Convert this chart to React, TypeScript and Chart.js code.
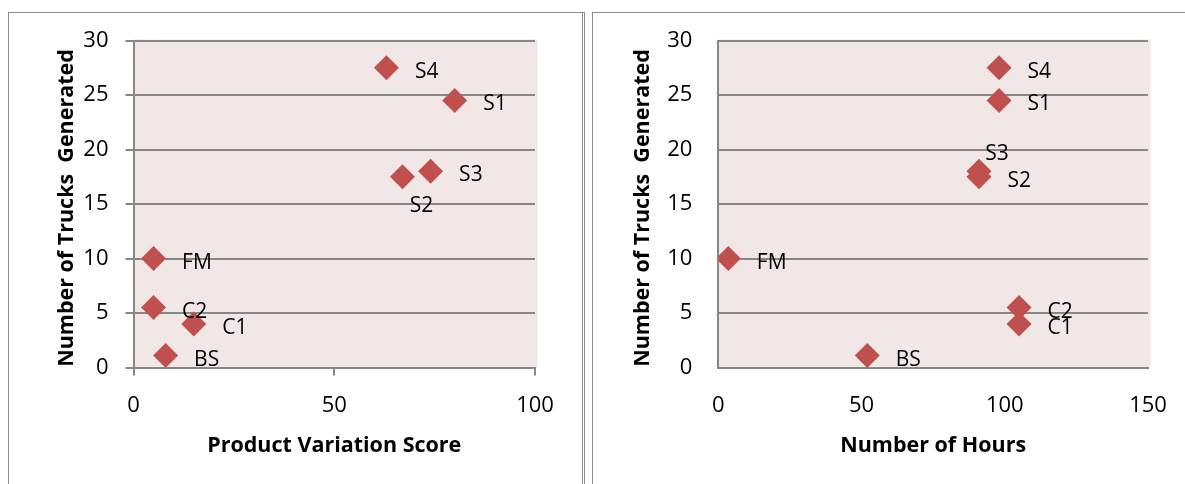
import React, { useEffect, useRef } from 'react';
import { Chart, registerables } from 'chart.js';

Chart.register(...registerables);

// Site data: trucks generated per site, with its product-variation score and hours
const siteNames = ['S1', 'S2', 'S3', 'S4', 'FM', 'C1', 'C2', 'BS'];
const trucksGenerated = [24.5, 17.5, 18, 27.5, 10, 4, 5.5, 1.1];
const variationScores = [80, 67, 74, 63, 5, 15, 5, 8];
const hoursWorked = [98, 91, 91, 98, 3.5, 105, 105, 52];

// Where each site's label sits relative to its marker
const variationLabelSides = ['right', 'below', 'right', 'right', 'right', 'right', 'right', 'right'];
const hoursLabelSides = ['right', 'right', 'above', 'right', 'right', 'right', 'right', 'right'];

// Axis ranges and tick steps
const yAxisMax = 30;
const yAxisStep = 5;
const variationAxisMax = 100;
const hoursAxisMax = 150;
const xAxisStep = 50;

const FONT = '"Open Sans", "Noto Sans", sans-serif';
const GRID = '#878787';
const MARKER = '#C0504D';
const PLOT_FILL = '#F2E7E7';

const CANVAS_H = 471;

type PanelSpec = {
  left: number;
  width: number;
  xValues: number[];
  xMax: number;
  sides: string[];
  xTitle: string;
  yTitleBaseline: number;
  tickMarks: boolean;
  yAxisWidth: number;
  rightPad: number;
};

const plotBackground = {
  id: 'plotBackground',
  beforeDraw(chart: any) {
    const { ctx, chartArea } = chart;
    ctx.save();
    ctx.fillStyle = PLOT_FILL;
    ctx.fillRect(chartArea.left, chartArea.top - 1, chartArea.width + 2.5, chartArea.height + 1);
    ctx.restore();
  },
};

const siteLabels = {
  id: 'siteLabels',
  afterDatasetsDraw(chart: any, _args: any, opts: any) {
    const { ctx } = chart;
    const meta = chart.getDatasetMeta(0);
    ctx.save();
    ctx.fillStyle = '#000';
    ctx.font = `21px ${FONT}`;
    ctx.textBaseline = 'alphabetic';
    meta.data.forEach((pt: any, i: number) => {
      const side = opts.sides[i];
      const name = siteNames[i];
      if (side === 'below') {
        ctx.textAlign = 'center';
        ctx.fillText(name, pt.x + 19, pt.y + 35.5);
      } else if (side === 'above') {
        ctx.textAlign = 'center';
        ctx.fillText(name, pt.x + 18, pt.y - 11);
      } else {
        ctx.textAlign = 'left';
        ctx.fillText(name, pt.x + 28.5, pt.y + 10);
      }
    });
    ctx.restore();
  },
};

const axisTitles = {
  id: 'axisTitles',
  afterDraw(chart: any, _args: any, opts: any) {
    const { ctx, chartArea } = chart;
    ctx.save();
    ctx.fillStyle = '#000';
    ctx.font = `bold 21.5px ${FONT}`;
    ctx.textAlign = 'center';
    ctx.textBaseline = 'alphabetic';
    ctx.fillText(opts.xTitle, (chartArea.left + chartArea.right) / 2, 438.7);
    ctx.translate(opts.yTitleBaseline, 195);
    ctx.rotate(-Math.PI / 2);
    ctx.fillText(opts.yTitle, 0, 0);
    ctx.restore();
  },
};

function ScatterPanel({ spec }: { spec: PanelSpec }) {
  const ref = useRef<HTMLCanvasElement>(null);

  useEffect(() => {
    const tickFont = { family: FONT, size: 22 };
    const chart = new Chart(ref.current as HTMLCanvasElement, {
      type: 'scatter',
      data: {
        datasets: [
          {
            data: spec.xValues.map((x, i) => ({ x, y: trucksGenerated[i] })),
            pointStyle: 'rectRot',
            pointRadius: 12.5,
            pointHoverRadius: 12.5,
            pointBackgroundColor: MARKER,
            pointBorderColor: MARKER,
            pointBorderWidth: 0,
          },
        ],
      },
      options: {
        animation: false,
        responsive: false,
        events: [],
        layout: { autoPadding: false, padding: { left: 0, right: spec.rightPad, top: 27.5, bottom: 0 } },
        plugins: {
          legend: { display: false },
          tooltip: { enabled: false },
          siteLabels: { sides: spec.sides },
          axisTitles: {
            xTitle: spec.xTitle,
            yTitle: 'Number of Trucks  Generated',
            yTitleBaseline: spec.yTitleBaseline,
          },
        } as any,
        scales: {
          x: {
            type: 'linear',
            min: 0,
            max: spec.xMax,
            ticks: {
              stepSize: xAxisStep,
              color: '#000',
              font: tickFont,
              padding: spec.tickMarks ? 17 : 25,
            },
            grid: {
              drawOnChartArea: false,
              drawTicks: spec.tickMarks,
              tickLength: 8,
              color: GRID,
              lineWidth: 2,
            },
            border: { display: true, color: GRID, width: 2 },
            afterFit: (s: any) => {
              s.height = 116.5;
              s.paddingLeft = 0;
              s.paddingRight = 0;
            },
          },
          y: {
            type: 'linear',
            min: 0,
            max: yAxisMax,
            ticks: {
              stepSize: yAxisStep,
              color: '#000',
              font: tickFont,
              padding: spec.tickMarks ? 17 : 26,
            },
            grid: {
              color: GRID,
              lineWidth: 2,
              drawTicks: spec.tickMarks,
              tickLength: 8,
            },
            border: { display: true, color: GRID, width: 2 },
            afterFit: (s: any) => {
              s.width = spec.yAxisWidth;
              s.paddingTop = 0;
              s.paddingBottom = 0;
            },
          },
        },
      },
      plugins: [plotBackground, siteLabels, axisTitles],
    } as any);
    return () => chart.destroy();
  }, [spec]);

  return (
    <canvas
      ref={ref}
      width={spec.width}
      height={CANVAS_H}
      style={{ position: 'absolute', left: spec.left, top: 13, width: spec.width, height: CANVAS_H }}
    />
  );
}

const variationPanel: PanelSpec = {
  left: 9,
  width: 572,
  xValues: variationScores,
  xMax: variationAxisMax,
  sides: variationLabelSides,
  xTitle: 'Product Variation Score',
  yTitleBaseline: 64,
  tickMarks: true,
  yAxisWidth: 124.5,
  rightPad: 46,
};

const hoursPanel: PanelSpec = {
  left: 594,
  width: 591,
  xValues: hoursWorked,
  xMax: hoursAxisMax,
  sides: hoursLabelSides,
  xTitle: 'Number of Hours',
  yTitleBaseline: 55,
  tickMarks: false,
  yAxisWidth: 124.3,
  rightPad: 37,
};

export default function App() {
  return (
    <div
      style={{
        position: 'fixed',
        left: 0,
        top: 0,
        width: 1185,
        height: 484,
        overflow: 'hidden',
        background: '#fff',
      }}
    >
      <div
        style={{
          position: 'absolute',
          left: 8,
          top: 12,
          width: 573,
          height: 520,
          borderTop: '1px solid #8c8c8c',
          borderLeft: '1px solid #8c8c8c',
          borderRight: '3px double #8c8c8c',
        }}
      />
      <div
        style={{
          position: 'absolute',
          left: 592,
          top: 12,
          width: 700,
          height: 520,
          border: '1px solid #8c8c8c',
        }}
      />
      <ScatterPanel spec={variationPanel} />
      <ScatterPanel spec={hoursPanel} />
    </div>
  );
}
